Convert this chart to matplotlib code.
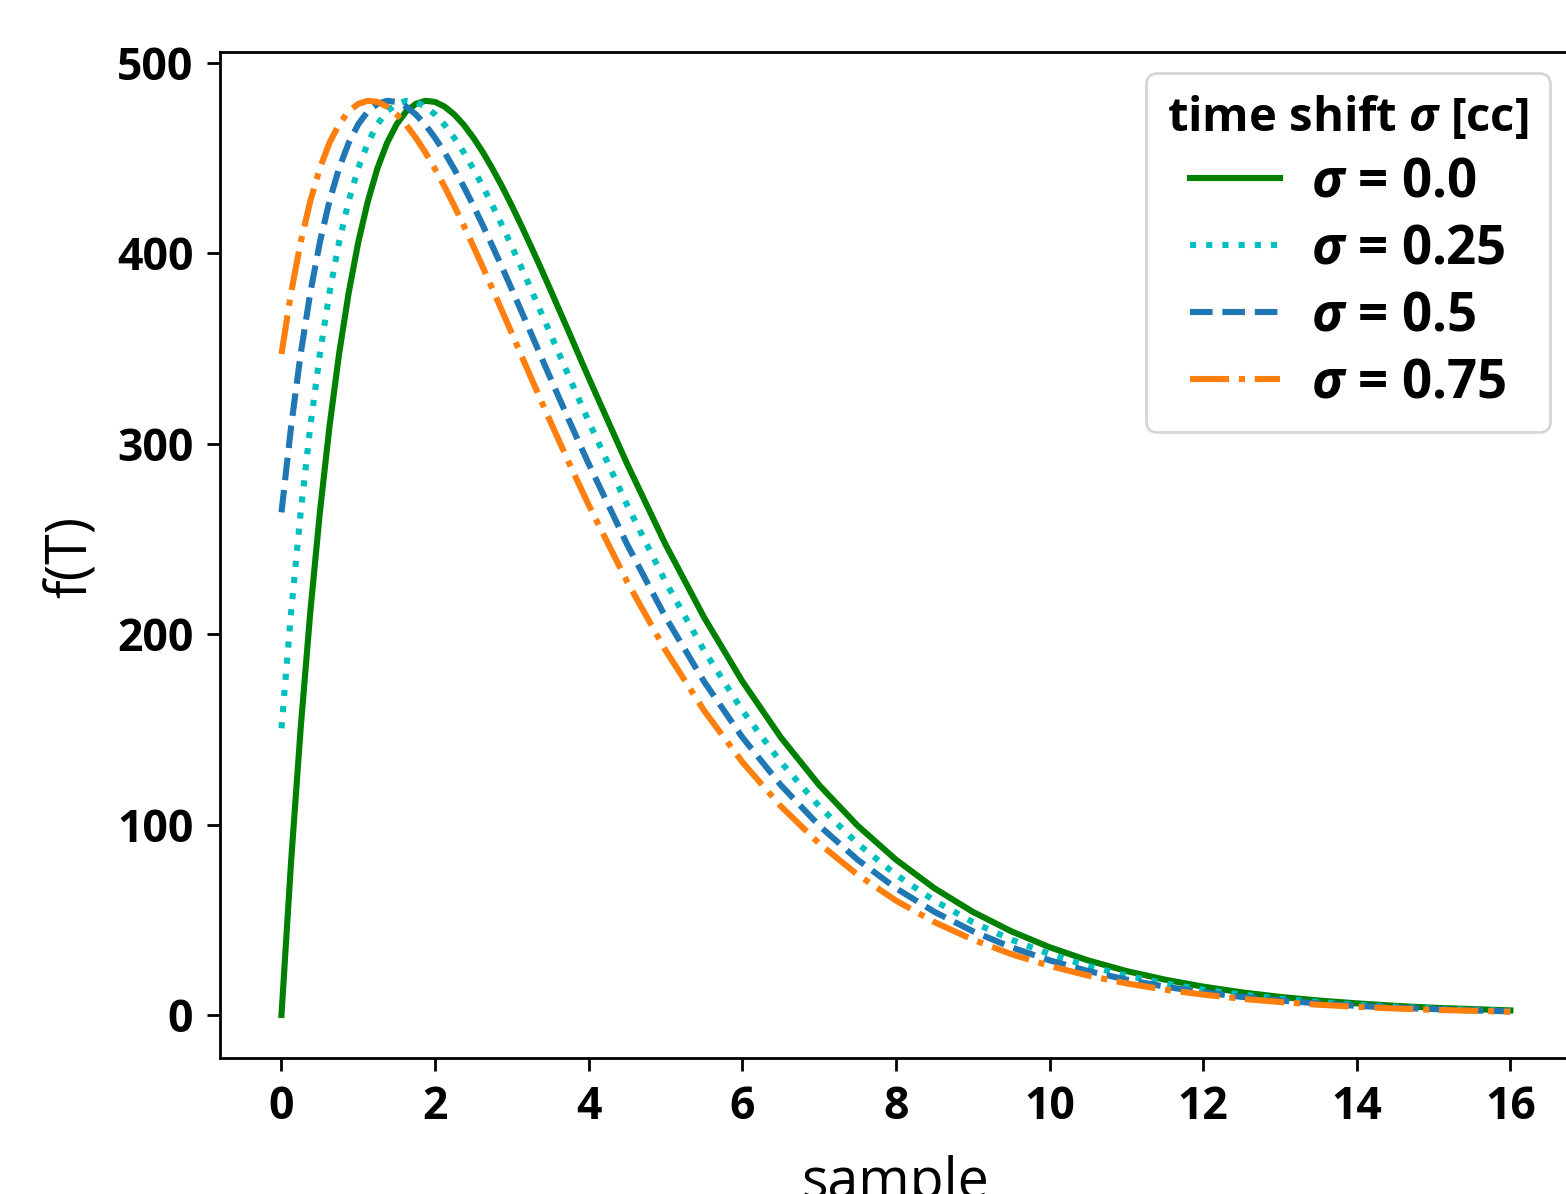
import matplotlib
matplotlib.use("Agg")
import matplotlib.pyplot as plt

# sample positions (finer near the peak)
x = [0, 0.125, 0.25, 0.375, 0.5, 0.625, 0.75, 0.875, 1, 1.125, 1.25, 1.375, 1.5, 1.625,
     1.75, 1.875, 2, 2.125, 2.25, 2.375, 2.5, 2.625, 2.75, 2.875, 3, 3.125, 3.25, 3.375,
     3.5, 3.625, 3.75, 3.875, 4,
     4.5, 5, 5.5, 6, 6.5, 7, 7.5, 8, 8.5, 9, 9.5, 10, 10.5, 11, 11.5, 12,
     12.5, 13, 13.5, 14, 14.5, 15, 15.5, 16]

# f(T), one list per time shift
f_s000 = [0, 80.4, 150.6, 211.5, 264.0, 309.0, 347.2, 379.3, 405.9, 427.5, 444.8, 458.1,
          467.9, 474.7, 478.6, 480.2, 479.6, 477.1, 473.0, 467.5, 460.7, 453.0, 444.3,
          435.0, 425.0, 414.5, 403.6, 392.5, 381.1, 369.5, 358.0, 346.3, 334.7,
          289.5, 247.2, 209.0, 175.3, 145.9, 120.8, 99.5, 81.6, 66.6, 54.2, 44.0, 35.6,
          28.7, 23.1, 18.6, 14.9, 11.9, 9.5, 7.6, 6.1, 4.8, 3.8, 3.1, 2.4]
f_s025 = [150.6, 211.5, 264.0, 309.0, 347.2, 379.3, 405.9, 427.5, 444.8, 458.1, 467.9,
          474.7, 478.6, 480.2, 479.6, 477.1, 473.0, 467.5, 460.7, 453.0, 444.3, 435.0,
          425.0, 414.5, 403.6, 392.5, 381.1, 369.5, 358.0, 346.3, 334.7, 323.2, 311.8,
          267.9, 227.6, 191.6, 160.0, 132.9, 109.7, 90.1, 73.7, 60.1, 48.8, 39.6, 32.0,
          25.8, 20.7, 16.6, 13.3, 10.7, 8.5, 6.8, 5.4, 4.3, 3.4, 2.7, 2.2]
f_s050 = [264.0, 309.0, 347.2, 379.3, 405.9, 427.5, 444.8, 458.1, 467.9, 474.7, 478.6,
          480.2, 479.6, 477.1, 473.0, 467.5, 460.7, 453.0, 444.3, 435.0, 425.0, 414.5,
          403.6, 392.5, 381.1, 369.5, 358.0, 346.3, 334.7, 323.2, 311.8, 300.6, 289.5,
          247.2, 209.0, 175.3, 145.9, 120.8, 99.5, 81.6, 66.6, 54.2, 44.0, 35.6, 28.7,
          23.1, 18.6, 14.9, 11.9, 9.5, 7.6, 6.1, 4.8, 3.8, 3.1, 2.4, 1.9]
f_s075 = [347.2, 379.3, 405.9, 427.5, 444.8, 458.1, 467.9, 474.7, 478.6, 480.2, 479.6,
          477.1, 473.0, 467.5, 460.7, 453.0, 444.3, 435.0, 425.0, 414.5, 403.6, 392.5,
          381.1, 369.5, 358.0, 346.3, 334.7, 323.2, 311.8, 300.6, 289.5, 278.6, 267.9,
          227.6, 191.6, 160.0, 132.9, 109.7, 90.1, 73.7, 60.1, 48.8, 39.6, 32.0, 25.8,
          20.7, 16.6, 13.3, 10.7, 8.5, 6.8, 5.4, 4.3, 3.4, 2.7, 2.2, 1.7]

shifts = ["0.0", "0.25", "0.5", "0.75"]
colors = ["green", "c", "tab:blue", "tab:orange"]
styles = ["-", ":", "--", "-."]

plt.rcParams["font.family"] = ["Open Sans", "DejaVu Sans"]
plt.rcParams["mathtext.fontset"] = "custom"
plt.rcParams["mathtext.bfit"] = "Open Sans:italic:bold"
plt.rcParams["mathtext.rm"] = "Open Sans"

fig = plt.figure(figsize=(7.83, 5.97), dpi=200)
ax = fig.add_axes([0.1405, 0.1139, 0.8632, 0.8425])

for ys, s, c, ls in zip([f_s000, f_s025, f_s050, f_s075], shifts, colors, styles):
    ax.plot(x, ys, color=c, linestyle=ls, linewidth=2.2,
            label=r"$\mathbfit{\sigma}$ = " + s)

ax.set_xlim(-0.8, 16.8)
ax.set_ylim(-22.6, 505.8)
ax.set_xticks(range(0, 17, 2))
ax.set_yticks(range(0, 501, 100))
for sp in ax.spines.values():
    sp.set_linewidth(1.0)
ax.tick_params(length=4.6, width=1.0, pad=5, labelsize=16)
for lab in ax.get_xticklabels() + ax.get_yticklabels():
    lab.set_fontweight("bold")

fig.text(0.046, 0.5335, "f(T)", rotation=90, ha="center", va="center", fontsize=20)
fig.text(0.5715, -0.003, "sample", ha="center", va="baseline", fontsize=20)

leg = ax.legend(title=r"time shift $\mathbfit{\sigma}$ [cc]",
                loc="upper right", bbox_to_anchor=(0.9898, 0.9389),
                bbox_transform=fig.transFigure, borderaxespad=0,
                prop={"weight": "bold", "size": 19}, labelspacing=0.25,
                handlelength=1.7, handletextpad=0.6)
leg.get_title().set_fontweight("bold")
leg.get_title().set_fontsize(17)

fig.savefig("out.png", dpi=200)
